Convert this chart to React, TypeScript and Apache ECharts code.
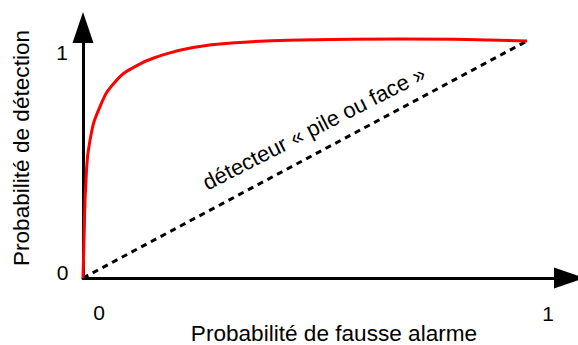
import React, { useEffect, useRef } from "react";
import * as echarts from "echarts";

// ROC curve points [false alarm probability, detection probability]
const rocFalseAlarm = [0, 0.00225, 0.0068, 0.0158, 0.0383, 0.0721, 0.1171, 0.1734, 0.2477, 0.3536, 0.4887, 0.714, 1.0];
const rocDetection = [0, 0.16, 0.414, 0.582, 0.723, 0.827, 0.892, 0.937, 0.973, 0.994, 1.004, 1.008, 1.0];
// random ("pile ou face") detector diagonal
const randomFalseAlarm = [0, 1];
const randomDetection = [0, 1];

const xTickLabels = ["0", "1"];
const yTickLabels = ["0", "1"];
const xTitle = "Probabilité de fausse alarme";
const yTitle = "Probabilité de détection";
const diagLabel = "détecteur « pile ou face »";

const FONT = "'Liberation Sans', Arial, Helvetica, sans-serif";

export default function App() {
  const ref = useRef<HTMLDivElement>(null);
  useEffect(() => {
    if (!ref.current) return;
    const chart = echarts.init(ref.current, undefined, { renderer: "svg" });
    const left = 83;
    const top = 27.5;
    const originY = 278;
    const xEnd = 569.5;
    const unitX = 444;
    const unitY = 237;
    const gridW = xEnd - left;
    const gridH = originY - top;
    const axisLine = (col: string) => ({
      show: true,
      onZero: false,
      symbol: ["none", "triangle"],
      symbolSize: [21, 31],
      lineStyle: { color: col, width: 3 },
    });
    const txt = (text: string, x: number, y: number, size: number, rotation = 0) => ({
      type: "text",
      x,
      y,
      rotation,
      style: {
        text,
        fill: "#000",
        font: `${size}px ${FONT}`,
        align: "center",
        verticalAlign: "middle",
      },
    });
    chart.setOption({
      animation: false,
      backgroundColor: "#fff",
      grid: { left, top, width: gridW, height: gridH, containLabel: false },
      xAxis: {
        type: "value",
        min: 0,
        max: gridW / unitX,
        axisLine: axisLine("#000"),
        axisTick: { show: false },
        axisLabel: { show: false },
        splitLine: { show: false },
      },
      yAxis: {
        type: "value",
        min: 0,
        max: gridH / unitY,
        axisLine: axisLine("#000"),
        axisTick: { show: false },
        axisLabel: { show: false },
        splitLine: { show: false },
      },
      series: [
        {
          type: "line",
          data: randomFalseAlarm.map((x, i) => [x, randomDetection[i]]),
          showSymbol: false,
          lineStyle: { color: "#000", width: 3, type: [6, 5] },
          z: 2,
        },
        {
          type: "line",
          data: rocFalseAlarm.map((x, i) => [x, rocDetection[i]]),
          showSymbol: false,
          smooth: 0.5,
          lineStyle: { color: "#ff0000", width: 3 },
          z: 3,
        },
      ],
      graphic: [
        txt(yTickLabels[1], 62, 52, 21),
        txt(yTickLabels[0], 62.5, 272, 21),
        txt(xTickLabels[0], 99, 312, 21),
        txt(xTickLabels[1], 548, 313, 21),
        txt(xTitle, 334, 333, 22.6),
        txt(yTitle, 21, 148, 22.6, Math.PI / 2),
        txt(diagLabel, 314, 128, 22, (27 * Math.PI) / 180),
      ],
    });
    return () => chart.dispose();
  }, []);
  return (
    <div
      ref={ref}
      style={{ position: "absolute", left: 0, top: 0, width: 578, height: 345 }}
    />
  );
}
